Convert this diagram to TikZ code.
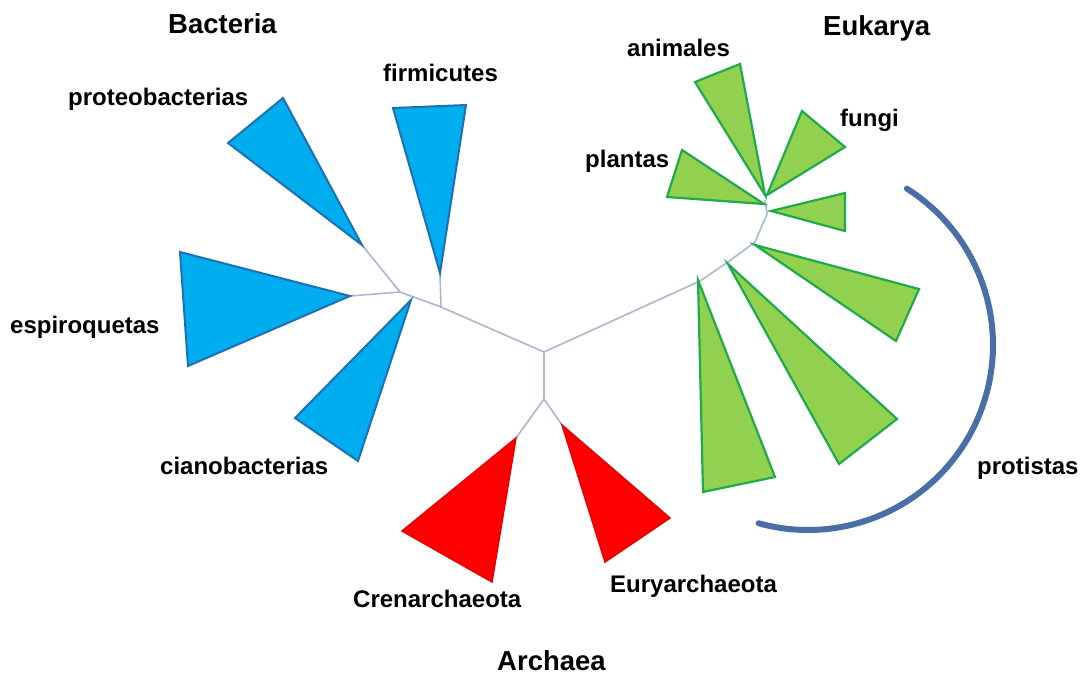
\documentclass[tikz,border=0pt]{standalone}
\usepackage{fontspec}
\setmainfont{Liberation Sans}
\definecolor{bfill}{HTML}{00AEEF}
\definecolor{bdraw}{HTML}{1F6FB5}
\definecolor{gfill}{HTML}{92D050}
\definecolor{gdraw}{HTML}{1FAA4B}
\definecolor{rfill}{HTML}{FF0000}
\definecolor{rdraw}{HTML}{E80000}
\definecolor{treec}{HTML}{A9B8CF}
\definecolor{arcc}{HTML}{4A6EA6}
\begin{document}
\begin{tikzpicture}[x=1pt,y=-1pt,
  branch/.style={draw=treec, line width=1.6pt, line join=round},
  bact/.style={fill=bfill, draw=bdraw, line width=2pt, line join=miter},
  euk/.style={fill=gfill, draw=gdraw, line width=2.2pt, line join=miter},
  arch/.style={fill=rfill, draw=rdraw, line width=1.5pt, line join=miter},
  lab/.style={font=\bfseries\fontsize{24}{28}\selectfont, inner sep=0pt, anchor=base west},
  dom/.style={font=\bfseries\fontsize{27.5}{32}\selectfont, inner sep=0pt, anchor=base west},
  arcstyle/.style={draw=arcc, line width=6pt, line cap=round}]
\useasboundingbox[fill=white] (0,0) rectangle (1081,675);

% junctions
\coordinate (root) at (544,352);
\coordinate (archJ) at (544,399);
\coordinate (bactJ) at (400,292);
\coordinate (firmJ) at (441,307);
\coordinate (eukJ) at (700,281);
\coordinate (e2) at (728,262);
\coordinate (e3) at (755,242);
\coordinate (e4) at (767,214);
\coordinate (e5) at (765,200);
% apexes
\coordinate (proA) at (362,245);
\coordinate (firA) at (440,273);
\coordinate (espA) at (350,296);
\coordinate (ciaA) at (411,300);
\coordinate (creA) at (516,438);
\coordinate (eurA) at (562,425);
\coordinate (aniA) at (765,195);
\coordinate (funA) at (767,195);
\coordinate (plaA) at (764,204);
\coordinate (smA) at (771,211);
\coordinate (p1A) at (755,245);
\coordinate (p2A) at (728,264);
\coordinate (p3A) at (698,280);

% tree branches
\draw[branch] (root) -- (archJ);
\draw[branch] (archJ) -- (creA);
\draw[branch] (archJ) -- (eurA);
\draw[branch] (root) -- (firmJ) -- (bactJ);
\draw[branch] (firmJ) -- (firA);
\draw[branch] (bactJ) -- (proA);
\draw[branch] (bactJ) -- (espA);
\draw[branch] (root) -- (eukJ) -- (e2) -- (e3) -- (e4) -- (e5);

% Bacteria
\draw[bact] (proA) -- (228,143) -- (283,98) -- cycle;
\draw[bact] (firA) -- (393,108) -- (466,105) -- cycle;
\draw[bact] (espA) -- (180,252) -- (188,366) -- cycle;
\draw[bact] (ciaA) -- (295,418) -- (358,461) -- cycle;
% Archaea
\draw[arch] (creA) -- (402,531) -- (492,582) -- cycle;
\draw[arch] (eurA) -- (605,562) -- (670,518) -- cycle;
% Eukarya
\draw[euk] (aniA) -- (695,82) -- (740,64) -- cycle;
\draw[euk] (funA) -- (802,111) -- (845,147) -- cycle;
\draw[euk] (plaA) -- (682,150) -- (667,197) -- cycle;
\draw[euk] (smA) -- (845,193) -- (845,231) -- cycle;
\draw[euk] (p1A) -- (919,289) -- (896,341) -- cycle;
\draw[euk] (p2A) -- (897,419) -- (839,464) -- cycle;
\draw[euk] (p3A) -- (775,477) -- (703,492) -- cycle;

% protistas arc
\draw[arcstyle] plot[domain=-57.7:105.5, samples=90, variable=\t] ({808+185*cos(\t)},{345+185*sin(\t)});

% labels
\node[dom] (bacteria) at (168,33) {Bacteria};
\node[dom] (eukarya) at (823,35) {Eukarya};
\node[dom] (archaea) at (497,670) {Archaea};
\node[lab] (proteo) at (68,105) {proteobacterias};
\node[lab] (firmi) at (383,81) {firmicutes};
\node[lab] (espiro) at (10,333) {espiroquetas};
\node[lab] (ciano) at (160,474) {cianobacterias};
\node[lab] (crena) at (353,607) {Crenarchaeota};
\node[lab] (eurya) at (610,592) {Euryarchaeota};
\node[lab] (anim) at (627,56) {animales};
\node[lab] (fung) at (840,126) {fungi};
\node[lab] (plan) at (585,167) {plantas};
\node[lab] (prot) at (977,474) {protistas};
\end{tikzpicture}
\end{document}
